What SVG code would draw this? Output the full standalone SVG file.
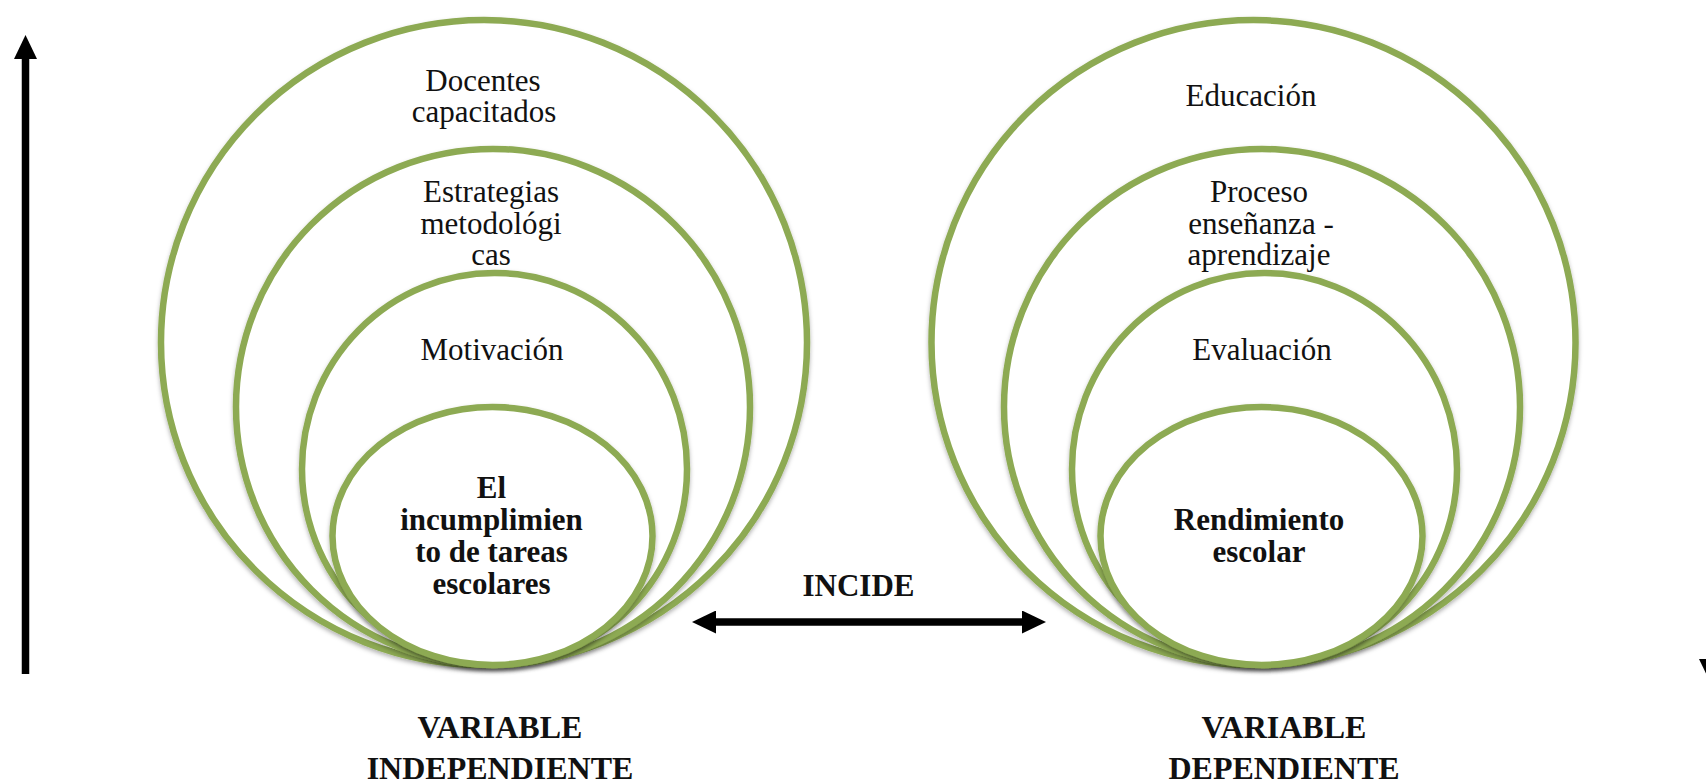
<svg xmlns="http://www.w3.org/2000/svg" width="1706" height="783" viewBox="0 0 1706 783">
<style>
.ring{fill:#ffffff;stroke:#8DAA53;stroke-width:6.5;filter:url(#sh)}
.t{font-family:"Liberation Serif","Times New Roman",serif;font-size:31px;fill:#111;text-anchor:middle}
.b{font-weight:bold}
.lab{font-family:"Liberation Serif","Times New Roman",serif;font-size:32px;font-weight:bold;fill:#111;text-anchor:middle}
.arr{stroke:#000;stroke-width:7.5;fill:none}
</style>
<defs>
<filter id="sh" x="-10%" y="-10%" width="120%" height="125%">
<feDropShadow dx="0" dy="2.5" stdDeviation="2" flood-color="#000" flood-opacity="0.3"/>
</filter>
<marker id="ah" viewBox="0 0 24 23" refX="0" refY="11.5" markerWidth="24" markerHeight="23" markerUnits="userSpaceOnUse" orient="auto-start-reverse">
<path d="M0,0 L24,11.5 L0,23 z" fill="#000"/>
</marker>
</defs>
<rect width="1706" height="783" fill="#fff"/>

<g id="independiente">
<g id="docentes">
<ellipse class="ring" cx="484" cy="342.5" rx="323" ry="322.5"/>
<text class="t" x="483" y="91">Docentes</text>
<text class="t" x="484" y="122">capacitados</text>
</g>
<g id="estrategias">
<ellipse class="ring" cx="493" cy="407" rx="257" ry="258"/>
<text class="t" x="491" y="202">Estrategias</text>
<text class="t" x="491" y="234">metodológi</text>
<text class="t" x="491" y="265">cas</text>
</g>
<g id="motivacion">
<ellipse class="ring" cx="494.5" cy="469" rx="192.5" ry="196"/>
<text class="t" x="492" y="360">Motivación</text>
</g>
<g id="incumplimiento">
<ellipse class="ring" cx="492.5" cy="536" rx="160" ry="129"/>
<text class="t b" x="491.5" y="498">El</text>
<text class="t b" x="491.5" y="530">incumplimien</text>
<text class="t b" x="491.5" y="561.5">to de tareas</text>
<text class="t b" x="491.5" y="593.5">escolares</text>
</g>
<g id="label-independiente">
<text class="lab" x="500" y="738">VARIABLE</text>
<text class="lab" x="500" y="779">INDEPENDIENTE</text>
</g>
</g>

<g id="dependiente">
<g id="educacion">
<ellipse class="ring" cx="1253.5" cy="342.5" rx="322" ry="322.5"/>
<text class="t" x="1251" y="106">Educación</text>
</g>
<g id="proceso">
<ellipse class="ring" cx="1262" cy="407" rx="258" ry="258"/>
<text class="t" x="1259" y="202">Proceso</text>
<text class="t" x="1261" y="234">enseñanza -</text>
<text class="t" x="1259" y="265">aprendizaje</text>
</g>
<g id="evaluacion">
<ellipse class="ring" cx="1264.5" cy="469" rx="192.5" ry="196"/>
<text class="t" x="1262" y="360">Evaluación</text>
</g>
<g id="rendimiento">
<ellipse class="ring" cx="1261.5" cy="536" rx="161" ry="129"/>
<text class="t b" x="1259" y="530">Rendimiento</text>
<text class="t b" x="1259" y="561.5">escolar</text>
</g>
<g id="label-dependiente">
<text class="lab" x="1284" y="738">VARIABLE</text>
<text class="lab" x="1284" y="779">DEPENDIENTE</text>
</g>
</g>

<g id="connectors">
<line class="arr" x1="25.5" y1="674" x2="25.5" y2="59" marker-end="url(#ah)"/>
<line class="arr" x1="716" y1="622" x2="1022" y2="622" marker-start="url(#ah)" marker-end="url(#ah)"/>
<text class="t b" x="858.5" y="596">INCIDE</text>
<polygon points="1699,659 1722,659 1710.5,683" fill="#000"/>
</g>
</svg>
